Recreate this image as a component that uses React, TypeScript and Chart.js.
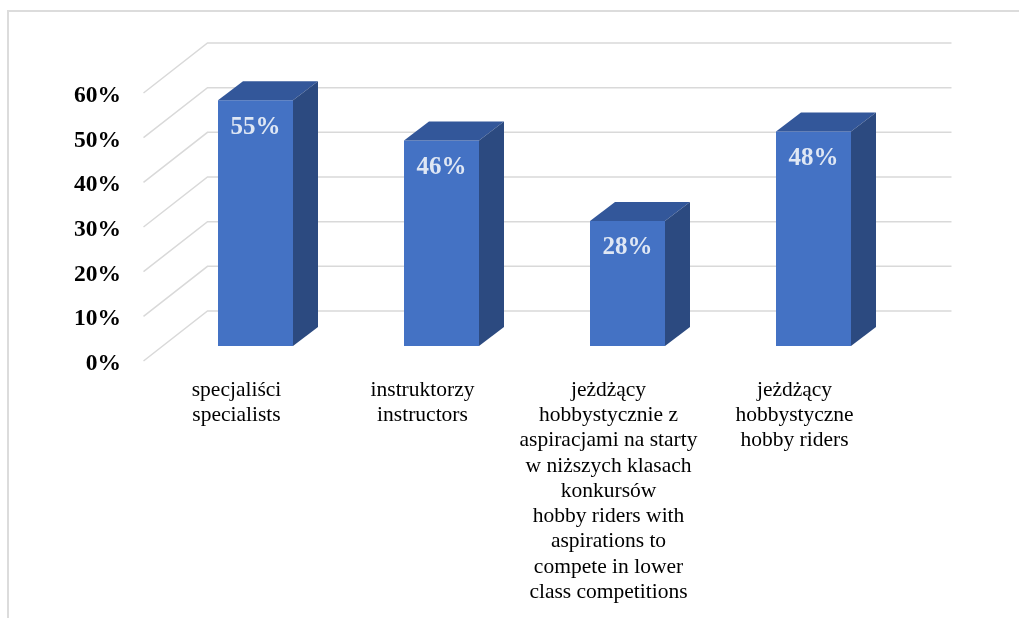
import React, { useEffect, useRef } from "react";
import { Chart, registerables } from "chart.js";

Chart.register(...registerables);

const categories: string[][] = [
  ["specjaliści", "specialists"],
  ["instruktorzy", "instructors"],
  [
    "jeżdżący",
    "hobbystycznie z",
    "aspiracjami na starty",
    "w niższych klasach",
    "konkursów",
    "hobby riders with",
    "aspirations to",
    "compete in lower",
    "class competitions",
  ],
  ["jeżdżący", "hobbystyczne", "hobby riders"],
];
const values: number[] = [55, 46, 28, 48];
const yTicks: number[] = [0, 10, 20, 30, 40, 50, 60];
const yTickLabels: string[] = ["0%", "10%", "20%", "30%", "40%", "50%", "60%"];
const valueLabels: string[] = ["55%", "46%", "28%", "48%"];

const FRONT_COLOR = "#4472C4";
const TOP_COLOR = "#33579A";
const SIDE_COLOR = "#2C4A80";
const GRID_COLOR = "#d9d9d9";
const SERIF = "'Liberation Serif', 'Times New Roman', serif";

// 3D plane offsets relative to the bar front-face plane
const FRONT_DX = -19;
const FRONT_DY = 15;
const BACK_DX = 45;
const BACK_DY = -35;
const DEPTH_DX = 25;
const DEPTH_DY = -19;

const threeDPlugin = {
  id: "threeD",
  beforeDatasetsDraw(chart: any) {
    const ctx = chart.ctx as CanvasRenderingContext2D;
    const area = chart.chartArea;
    const y = chart.scales.y;
    const x = chart.scales.x;
    ctx.save();
    // outer frame
    ctx.strokeStyle = "#dcdcdc";
    ctx.lineWidth = 2;
    ctx.beginPath();
    ctx.moveTo(8, 618);
    ctx.lineTo(8, 11);
    ctx.lineTo(1019, 11);
    ctx.stroke();

    // grid: back wall + side diagonal
    ctx.strokeStyle = GRID_COLOR;
    ctx.lineWidth = 1.5;
    yTicks.forEach((t) => {
      const py = y.getPixelForValue(t);
      ctx.beginPath();
      ctx.moveTo(area.left + FRONT_DX, py + FRONT_DY);
      ctx.lineTo(area.left + BACK_DX, py + BACK_DY);
      ctx.lineTo(area.right + BACK_DX, py + BACK_DY);
      ctx.stroke();
    });

    // y tick labels on the front plane
    ctx.fillStyle = "#000";
    ctx.font = `bold 23.5px ${SERIF}`;
    ctx.textAlign = "right";
    ctx.textBaseline = "middle";
    yTicks.forEach((t, i) => {
      const py = y.getPixelForValue(t);
      ctx.fillText(yTickLabels[i], 121, py + FRONT_DY + 3);
    });

    // category labels
    ctx.font = `21.5px ${SERIF}`;
    ctx.textAlign = "center";
    const base = y.getPixelForValue(0) + FRONT_DY;
    categories.forEach((lines, i) => {
      const px = x.getPixelForValue(i) + FRONT_DX;
      lines.forEach((ln, j) => {
        ctx.fillText(ln, px, base + 29 + j * 25.3);
      });
    });
    ctx.restore();
  },
  afterDatasetsDraw(chart: any) {
    const ctx = chart.ctx as CanvasRenderingContext2D;
    const meta = chart.getDatasetMeta(0);
    ctx.save();
    meta.data.forEach((bar: any, i: number) => {
      const left = bar.x - bar.width / 2;
      const right = bar.x + bar.width / 2;
      const top = bar.y;
      const bottom = bar.base;
      // top face
      ctx.fillStyle = TOP_COLOR;
      ctx.beginPath();
      ctx.moveTo(left, top);
      ctx.lineTo(left + DEPTH_DX, top + DEPTH_DY);
      ctx.lineTo(right + DEPTH_DX, top + DEPTH_DY);
      ctx.lineTo(right, top);
      ctx.closePath();
      ctx.fill();
      // side face
      ctx.fillStyle = SIDE_COLOR;
      ctx.beginPath();
      ctx.moveTo(right, top);
      ctx.lineTo(right + DEPTH_DX, top + DEPTH_DY);
      ctx.lineTo(right + DEPTH_DX, bottom + DEPTH_DY);
      ctx.lineTo(right, bottom);
      ctx.closePath();
      ctx.fill();
      // value label
      ctx.fillStyle = "#dfe7f4";
      ctx.font = `bold 25px ${SERIF}`;
      ctx.textAlign = "center";
      ctx.textBaseline = "middle";
      ctx.fillText(valueLabels[i], bar.x, top + 27);
    });
    ctx.restore();
  },
};

export default function App() {
  const ref = useRef<HTMLCanvasElement | null>(null);
  useEffect(() => {
    if (!ref.current) return;
    const chart = new Chart(ref.current, {
      type: "bar",
      data: {
        labels: categories.map((c) => c.join(" ")),
        datasets: [
          {
            data: values,
            backgroundColor: FRONT_COLOR,
            borderWidth: 0,
            categoryPercentage: 1,
            barPercentage: 75 / 186,
          },
        ],
      },
      options: {
        responsive: false,
        animation: false,
        events: [],
        layout: { padding: { left: 162.5, right: 112.5, top: 78, bottom: 272 } },
        plugins: { legend: { display: false }, tooltip: { enabled: false } },
        scales: {
          x: { display: false },
          y: { display: false, min: 0, max: 60, ticks: { stepSize: 10 } },
        },
      },
      plugins: [threeDPlugin],
    });
    return () => chart.destroy();
  }, []);
  return (
    <div style={{ position: "fixed", left: 0, top: 0, width: 1019, height: 618, background: "#fff" }}>
      <canvas ref={ref} width={1019} height={618} style={{ display: "block" }} />
    </div>
  );
}
